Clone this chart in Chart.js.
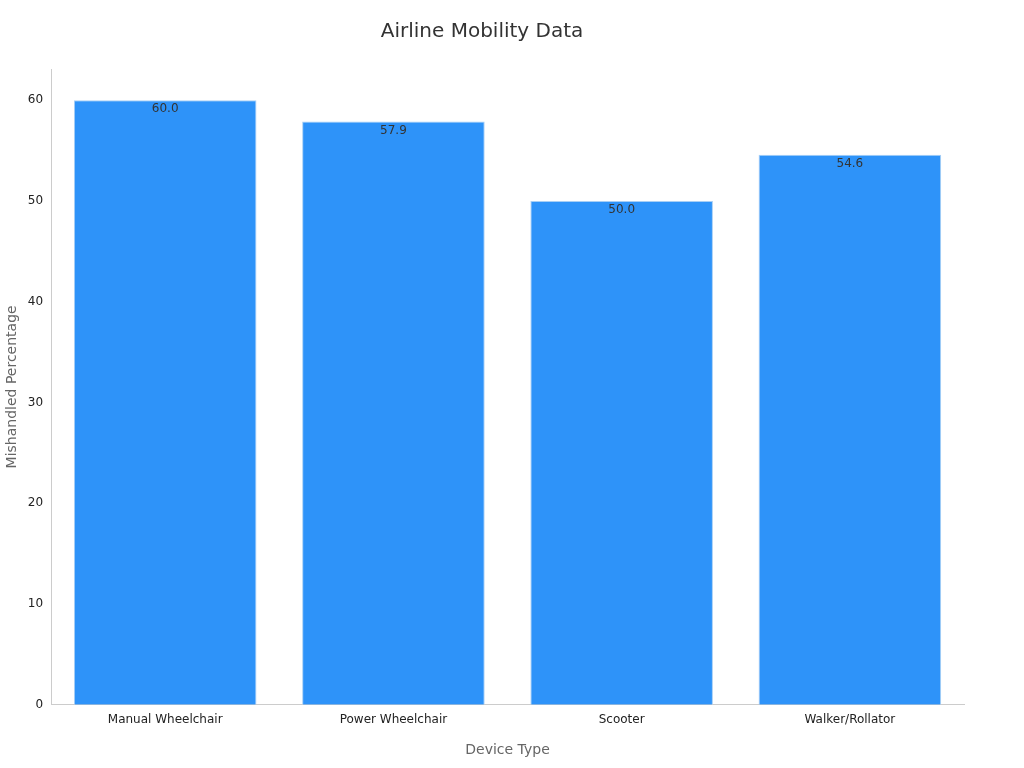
<!DOCTYPE html>
<html>
<head>
<meta charset="utf-8">
<script src="https://cdn.jsdelivr.net/npm/chart.js@4/dist/chart.umd.min.js"></script>
<style>
  body { margin: 0; background: #fff; }
  #wrap { width: 1024px; height: 768px; }
</style>
</head>
<body>
<div id="wrap"><canvas id="chart"></canvas></div>
<script>
const categories = ['Manual Wheelchair', 'Power Wheelchair', 'Scooter', 'Walker/Rollator'];
const mishandled = [60.0, 57.9, 50.0, 54.6];
const yTicks = [0, 10, 20, 30, 40, 50, 60];

// value labels just inside the top of each bar
const barLabels = {
  id: 'barLabels',
  afterDatasetsDraw(chart) {
    const ctx = chart.ctx;
    ctx.save();
    ctx.font = '12px "DejaVu Sans", sans-serif';
    ctx.fillStyle = '#333';
    ctx.textAlign = 'center';
    ctx.textBaseline = 'top';
    chart.getDatasetMeta(0).data.forEach((bar, i) => {
      ctx.fillText(mishandled[i].toFixed(1), bar.x, bar.y + 3);
    });
    ctx.restore();
  }
};

new Chart(document.getElementById('chart'), {
  type: 'bar',
  data: {
    labels: categories,
    datasets: [{
      data: mishandled,
      backgroundColor: '#2e93f9',
      borderColor: '#a8cff5',
      borderWidth: 1,
      categoryPercentage: 0.8,
      barPercentage: 1.0
    }]
  },
  options: {
    responsive: true,
    maintainAspectRatio: false,
    animation: false,
    layout: { padding: { top: 10, right: 60, left: 0, bottom: 5 } },
    plugins: {
      legend: { display: false },
      tooltip: { enabled: false },
      title: {
        display: true,
        text: 'Airline Mobility Data',
        color: '#333',
        font: { family: '"DejaVu Sans", sans-serif', size: 20, weight: 'normal' },
        padding: { top: 10, bottom: 25 }
      }
    },
    scales: {
      x: {
        grid: { display: false, drawTicks: true, tickLength: 5, color: '#ccc' },
        border: { color: '#ccc' },
        ticks: { color: '#222', font: { family: '"DejaVu Sans", sans-serif', size: 12 } },
        title: {
          display: true, text: 'Device Type', color: '#666',
          font: { family: '"DejaVu Sans", sans-serif', size: 14 }, padding: { top: 12 }
        }
      },
      y: {
        min: 0,
        max: 63.1,
        afterBuildTicks(axis) { axis.ticks = yTicks.map(v => ({ value: v })); },
        grid: { display: false, drawTicks: true, tickLength: 5, color: '#ccc' },
        border: { color: '#ccc' },
        ticks: { color: '#222', font: { family: '"DejaVu Sans", sans-serif', size: 12 } },
        title: {
          display: true, text: 'Mishandled Percentage', color: '#666',
          font: { family: '"DejaVu Sans", sans-serif', size: 14 }
        }
      }
    }
  },
  plugins: [barLabels]
});
</script>
</body>
</html>
